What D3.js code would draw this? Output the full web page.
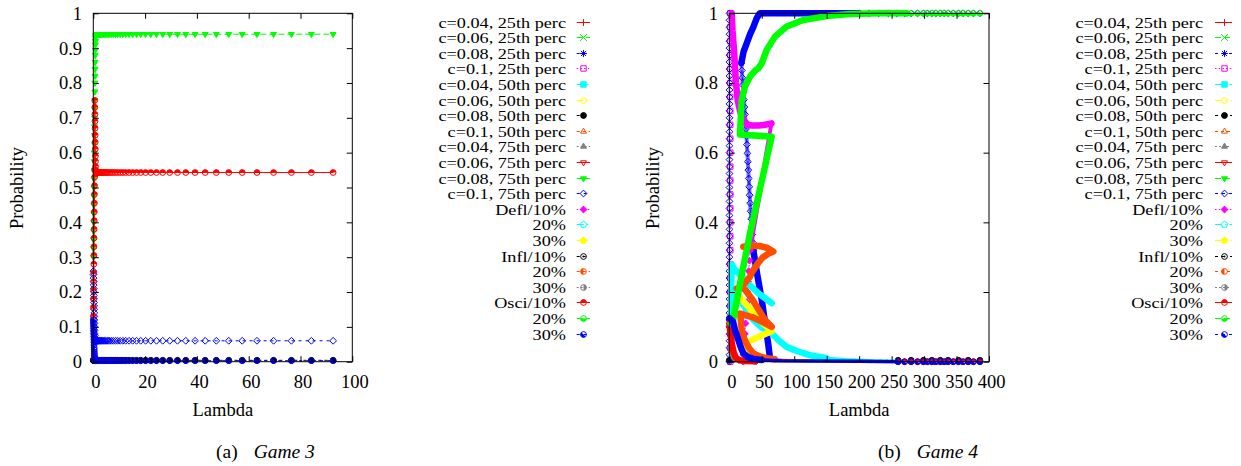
<!DOCTYPE html>
<html><head><meta charset="utf-8">
<script src="https://cdn.jsdelivr.net/npm/d3@7/dist/d3.min.js"></script>
<style>body{margin:0;background:#fff}svg{display:block}</style>
</head><body><svg id="c" width="1241" height="466"></svg>
<script>
// ---------------- data ----------------
const LEGEND_LABELS = ["c=0.04, 25th perc","c=0.06, 25th perc","c=0.08, 25th perc","c=0.1, 25th perc",
  "c=0.04, 50th perc","c=0.06, 50th perc","c=0.08, 50th perc","c=0.1, 50th perc",
  "c=0.04, 75th perc","c=0.06, 75th perc","c=0.08, 75th perc","c=0.1, 75th perc",
  "Defl/10%","20%","30%","Infl/10%","20%","30%","Osci/10%","20%","30%"];
const LINE_COLORS = ["#ff0000","#00ff00","#0000ff","#ff00ff","#00ffff","#ffff00","#000000","#ff4d00","#808080"];
const LINE_DASHES = [null,"6,3","3,4","1.5,2.2","7,3,1.5,3","6,4,1.5,4","3,3,3,6","3,3,3,3,3,6","2,2,2,2,2,2,2,5"];

const G3_X_TICKS = [0,20,40,60,80,100];
const G3_Y_TICKS = [0,0.1,0.2,0.3,0.4,0.5,0.6,0.7,0.8,0.9,1];
const G4_X_TICKS = [0,50,100,150,200,250,300,350,400];
const G4_Y_TICKS = [0,0.2,0.4,0.6,0.8,1];

// Game 3: lambda grid and series values on it
const G3_LAMBDA = [0.03,0.06,0.09,0.12,0.15,0.18,0.21,0.24,0.27,0.3,0.33,0.36,0.39,0.42,0.45,0.48,0.51,0.54,0.57,0.6,
  0.63,0.66,0.69,0.72,0.75,0.78,0.81,0.84,0.87,0.9,
  1.0,1.1,1.3,1.4,1.5,1.7,1.8,2.0,2.2,2.5,2.7,3.0,3.3,3.6,4.0,4.4,4.8,5.3,5.8,6.4,
  7.1,7.8,8.6,9.4,10.4,11.4,12.5,13.8,15.2,16.7,18.3,20.2,22.2,24.4,26.8,29.5,32.5,35.7,39.3,43.2,
  47.5,52.3,57.5,63.2,69.6,76.5,84.2,92.6];
const G3_C008_50 = [0.004,0.004,0.004,0.004,0.004,0.004,0.004,0.004,0.004,0.004,
  0.004,0.004,0.004,0.004,0.004,0.004,0.004,0.004,0.004,0.004,
  0.004,0.004,0.004,0.004,0.004,0.004,0.004,0.004,0.004,0.004,
  0.004,0.004,0.004,0.004,0.004,0.004,0.004,0.004,0.004,0.004,
  0.004,0.004,0.004,0.004,0.004,0.004,0.004,0.004,0.004,0.004,
  0.004,0.004,0.004,0.004,0.004,0.004,0.004,0.004,0.004,0.004,
  0.004,0.004,0.004,0.004,0.004,0.004,0.004,0.004,0.004,0.004,
  0.004,0.004,0.004,0.004,0.004,0.004,0.004,0.004];
const G3_C008_75 = [0.30,0.325,0.35,0.375,0.40,0.425,0.45,0.475,0.50,0.525,
  0.55,0.575,0.60,0.625,0.65,0.675,0.70,0.725,0.75,0.775,
  0.80,0.82,0.84,0.86,0.88,0.895,0.91,0.92,0.93,0.935,
  0.938,0.939,0.94,0.94,0.94,0.94,0.94,0.94,0.94,0.94,
  0.94,0.94,0.94,0.94,0.94,0.94,0.94,0.94,0.94,0.94,
  0.94,0.94,0.94,0.94,0.94,0.94,0.94,0.94,0.94,0.94,
  0.94,0.94,0.94,0.94,0.94,0.94,0.94,0.94,0.94,0.94,
  0.94,0.94,0.94,0.94,0.94,0.94,0.94,0.94];
const G3_C01_75 = [0.26,0.25,0.24,0.23,0.22,0.21,0.20,0.19,0.18,0.17,
  0.16,0.15,0.14,0.13,0.12,0.11,0.10,0.09,0.08,0.075,
  0.07,0.066,0.063,0.062,0.061,0.06,0.06,0.06,0.06,0.06,
  0.06,0.06,0.06,0.06,0.06,0.06,0.06,0.06,0.06,0.06,
  0.06,0.06,0.06,0.06,0.06,0.06,0.06,0.06,0.06,0.06,
  0.06,0.06,0.06,0.06,0.06,0.06,0.06,0.06,0.06,0.06,
  0.06,0.06,0.06,0.06,0.06,0.06,0.06,0.06,0.06,0.06,
  0.06,0.06,0.06,0.06,0.06,0.06,0.06,0.06];
const G3_OSCI10 = [0.13,0.155,0.18,0.205,0.23,0.255,0.28,0.305,0.33,0.355,
  0.38,0.405,0.43,0.455,0.48,0.505,0.53,0.55,0.75,0.73,
  0.71,0.69,0.67,0.65,0.63,0.61,0.59,0.575,0.56,0.55,
  0.546,0.544,0.543,0.543,0.543,0.543,0.543,0.543,0.543,0.543,
  0.543,0.543,0.543,0.543,0.543,0.543,0.543,0.543,0.543,0.543,
  0.543,0.543,0.543,0.543,0.543,0.543,0.543,0.543,0.543,0.543,
  0.543,0.543,0.543,0.543,0.543,0.543,0.543,0.543,0.543,0.543,
  0.543,0.543,0.543,0.543,0.543,0.543,0.543,0.543];
const G3_OSCI30 = [0.12,0.112,0.104,0.096,0.088,0.08,0.072,0.064,0.056,0.048,
  0.04,0.034,0.028,0.022,0.017,0.013,0.01,0.008,0.006,0.005,
  0.004,0.003,0.003,0.003,0.003,0.003,0.003,0.003,0.003,0.003,
  0.003,0.003,0.003,0.003,0.003,0.003,0.003,0.003,0.003,0.003,
  0.003,0.003,0.003,0.003,0.003,0.003,0.003,0.003,0.003,0.003,
  0.003,0.003,0.003,0.003,0.003,0.003,0.003,0.003,0.003,0.003,
  0.003,0.003,0.003,0.003,0.003,0.003,0.003,0.003,0.003,0.003,
  0.003,0.003,0.003,0.003,0.003,0.003,0.003,0.003];

// Game 4: [lambda, probability] points per series piece
const G4_C01_25 = [[1.5,1],[1.5,0.96],[1.5,0.92],[1.5,0.88],[1.5,0.84],[1.5,0.8],[1.5,0.76],[1.5,0.72],[1.5,0.68],[1.5,0.64],
  [1.5,0.6],[1.5,0.56],[1.5,0.52],[1.5,0.48],[1.5,0.44],[1.5,0.4],[1.5,0.36],[1.5,0.32],[1.5,0.28],[1.5,0.24],
  [1.5,0.2],[1.5,0.16],[1.5,0.12],[1.5,0.08],[1.5,0.04],[1.5,0]];
const G4_C008_50 = [[0,0.004],[260,0.004],[280,0.004],[299,0.004],[312,0.004],[325,0.004],[337,0.004],[353,0.004],
  [368,0.004],[386,0.004]];
const G4_C01_75_COL = [[0.3,1],[0.3,0.98],[0.3,0.96],[0.3,0.94],[0.3,0.92],[0.3,0.9],[0.3,0.88],[0.3,0.86],[0.3,0.84],[0.3,0.82],
  [0.3,0.8],[0.3,0.78],[0.3,0.76],[0.3,0.74],[0.3,0.72],[0.3,0.7],[0.3,0.68],[0.3,0.66],[0.3,0.64],[0.3,0.62],
  [0.3,0.6],[0.3,0.58],[0.3,0.56],[0.3,0.54],[0.3,0.52],[0.3,0.5],[0.3,0.48],[0.3,0.46],[0.3,0.44],[0.3,0.42],
  [0.3,0.4],[0.3,0.38],[0.3,0.36],[0.3,0.34],[0.3,0.32],[0.3,0.3],[0.3,0.28],[0.3,0.26],[0.3,0.24],[0.3,0.22],
  [0.3,0.2],[0.3,0.18],[0.3,0.16],[0.3,0.14],[0.3,0.12],[0.3,0.1],[0.3,0.08],[0.3,0.06],[0.3,0.04],[0.3,0.02],[0.3,0]];
const G4_C01_75_CHAIN = [[18.5,0.857],[19.3,0.836],[20.1,0.815],[20.9,0.794],[21.7,0.773],[22.5,0.752],[23.3,0.731],[24.1,0.71],
  [24.9,0.689],[25.7,0.668],[26.5,0.647],[27.2,0.623],[27.9,0.598],[28.6,0.574],[29.3,0.55],[30,0.526],[30.7,0.502],
  [31.4,0.478],[32.1,0.455],[32.9,0.432],[33.7,0.41],[34.5,0.387],[35.3,0.365],[36.1,0.342],[37,0.32]];
const G4_C01_75_DOWN = [[37,0.32],[43,0.25],[50,0.177],[56,0.1],[60,0.05],[62.7,0.01]];
const G4_C01_75_UP = [[18.5,0.857],[22,0.89],[26.8,0.914],[32,0.94],[37,0.96],[42,0.985],[47,1],[100,1],[150,1],[200,1]];
const G4_C01_75_TAIL = [[200,1],[215,1],[230,1],[245,1],[258,1],[270,1],[280,1],[290,1],[299,1],[305,1],[312,1],[318,1],
  [325,1],[331,1],[337,1],[345,1],[353,1],[360,1],[368,1],[376,1],[386,1]];
const G4_DEFL10_DENSE = [[3.7,1],[5,0.95],[7.2,0.895],[10.3,0.8],[13,0.75],[16.5,0.72],[21,0.695],[26.8,0.68],[35,0.678],[45,0.678],[55,0.68],[65,0.684]];
const G4_DEFL10_MED = [[65,0.684],[56,0.59],[48,0.49],[40,0.405],[32,0.32]];
const G4_DEFL10_SPARSE = [[32,0.32],[31,0.29],[30,0.26],[29,0.23],[28,0.2],[27,0.17],[26,0.14],[25,0.11],[24,0.08],[23,0.05],[22,0.02],[21.5,0]];
const G4_DEFL20_A = [[2.5,0.13],[3,0.2],[3.5,0.28],[8,0.265],[16.5,0.25],[30,0.222],[45,0.196],[65.3,0.168]];
const G4_DEFL20_B = [[11.4,0.196],[16.5,0.182],[25,0.152],[37,0.12],[50,0.098],[65.3,0.0815],[75,0.063],[88,0.043],[105,0.03],[124,0.019],[150,0.01]];
const G4_DEFL20_C = [[150,0.01],[180,0.006],[222,0.003],[260,0.002]];
const G4_DEFL30_A = [[14,0.19],[28,0.16],[42,0.13],[52,0.11],[62,0.095]];
const G4_DEFL30_B = [[34.5,0.062],[50,0.075],[65.3,0.088]];
const G4_DEFL30_C = [[10,0.07],[16.5,0.062],[22,0.045],[27,0.03],[35,0.015],[45,0.006]];
const G4_INFL20_A = [[21.6,0.33],[35,0.333],[47,0.332],[58,0.327],[67.8,0.316],[60,0.31],[52,0.3],[45,0.285],[39.6,0.27],[35,0.257],
  [31.9,0.244],[26,0.23],[19,0.215],[11.4,0.21],[18,0.215],[25,0.205],[35,0.18],[45,0.15],[55,0.12],[65.3,0.1],
  [55,0.11],[45,0.12],[35,0.128],[25,0.133],[17,0.138],[18,0.11],[20,0.08],[24,0.062],[30,0.04],[37,0.024],[47,0.015],[57.6,0.01],[70,0.007]];
const G4_INFL20_B = [[70,0.007],[90,0.005],[110,0.004],[130,0.003],[150,0.002]];
const G4_INFL30 = [[1,0.04],[3,0.025],[6,0.012],[10,0.006],[15,0.003]];
const G4_OSCI10_DENSE = [[0,0.11],[2,0.08],[4,0.05],[7,0.025],[10,0.012],[16,0.004],[25,0.002],[40,0.001]];
const G4_OSCI10_TAIL = [[40,0.001],[260,0],[270,0],[280,0],[290,0],[299,0],[305,0],[312,0],[318,0],[325,0],[331,0],
  [337,0],[345,0],[353,0],[360,0],[368,0],[376,0],[386,0]];
const G4_OSCI20_DENSE = [[2,0.11],[6,0.12],[16.5,0.225],[31.9,0.368],[65.3,0.646],[16.5,0.652],[19,0.751],[24,0.79],[31.9,0.818],
  [40,0.836],[44.7,0.842],[49.9,0.856],[57.6,0.895],[70.4,0.933],[88.4,0.962],[114,0.981],[150,0.992],[186,0.998],[230,1],[273,1]];
const G4_OSCI20_TAIL = [[273,1],[280,1],[290,1],[299,1],[305,1],[312,1],[318,1],[325,1],[331,1],[337,1],[345,1],[353,1],
  [360,1],[368,1],[376,1],[386,1]];
const G4_OSCI30_DENSE = [[0,0.125],[3,0.12],[5.7,0.115],[9,0.09],[14,0.062],[18,0.04],[21.6,0.024],[28,0.014],[37,0.008],[50,0.005]];
const G4_OSCI30_MED = [[50,0.005],[80,0.003],[120,0.002],[200,0.001],[260,0]];
const G4_OSCI30_TAIL = [[260,0],[270,0],[280,0],[290,0],[299,0],[305,0],[312,0],[318,0],[325,0],[331,0],[337,0],[345,0],
  [353,0],[360,0],[368,0],[376,0],[386,0]];

// ---------------- drawing ----------------
const FONT = "'Liberation Serif','Times New Roman',serif";
const FS = 18.5;      // axis / title font size
const LEG_FS = 14;    // legend font size (rows are 15.6 px apart)
const svg = d3.select("#c");
const Y0 = 361.7, Y1 = 13.3;

function zip(xs, ys) { return xs.map((x, k) => [x, ys[k]]); }

const G3_SERIES = [
  {i: 6, segs: [{pts: zip(G3_LAMBDA, G3_C008_50), w: 0}]},
  {i: 10, segs: [{pts: zip(G3_LAMBDA, G3_C008_75), w: 0}]},
  {i: 11, segs: [{pts: zip(G3_LAMBDA, G3_C01_75), w: 0}]},
  {i: 18, segs: [{pts: zip(G3_LAMBDA, G3_OSCI10), w: 0}]},
  {i: 20, segs: [{pts: zip(G3_LAMBDA, G3_OSCI30), w: 0}]}
];
const G4_SERIES = [
  {i: 3, segs: [{pts: G4_C01_25, w: 0}]},
  {i: 6, segs: [{pts: G4_C008_50, w: 0}]},
  {i: 11, segs: [{pts: G4_C01_75_COL, w: 0}, {pts: G4_C01_75_CHAIN, w: 0, under: 4}, {pts: G4_C01_75_DOWN, w: 6.5},
                 {pts: G4_C01_75_UP, w: 6.5}, {pts: G4_C01_75_TAIL, w: 0}]},
  {i: 12, segs: [{pts: G4_DEFL10_DENSE, w: 6.5}, {pts: G4_DEFL10_MED, w: 3.8}, {pts: G4_DEFL10_SPARSE, w: 0}]},
  {i: 13, segs: [{pts: G4_DEFL20_A, w: 6.5}, {pts: G4_DEFL20_B, w: 6.5}, {pts: G4_DEFL20_C, w: 3}]},
  {i: 14, segs: [{pts: G4_DEFL30_A, w: 6.5}, {pts: G4_DEFL30_B, w: 6.5}, {pts: G4_DEFL30_C, w: 6.5}]},
  {i: 16, segs: [{pts: G4_INFL20_A, w: 6.5}, {pts: G4_INFL20_B, w: 2}]},
  {i: 17, segs: [{pts: G4_INFL30, w: 5}]},
  {i: 18, segs: [{pts: G4_OSCI10_DENSE, w: 6.5}, {pts: G4_OSCI10_TAIL, w: 0}]},
  {i: 19, segs: [{pts: G4_OSCI20_DENSE, w: 6.5}, {pts: G4_OSCI20_TAIL, w: 0}]},
  {i: 20, segs: [{pts: G4_OSCI30_DENSE, w: 6.5}, {pts: G4_OSCI30_MED, w: 3.5}, {pts: G4_OSCI30_TAIL, w: 0}]}
];

function circ(s) { return `M${s},0A${s},${s} 0 1,1 ${-s},0A${s},${s} 0 1,1 ${s},0Z`; }
function poly(n, s, rot) {
  const p = d3.range(n).map(k => { const a = (rot + k * 360 / n) * Math.PI / 180; return [s * Math.cos(a), s * Math.sin(a)]; });
  return "M" + p.map(q => q[0].toFixed(2) + "," + q[1].toFixed(2)).join("L") + "Z";
}
function marker(g, t, x, y, col, s) {
  const m = g.append("g").attr("transform", `translate(${x},${y})`);
  const add = (d, filled) => m.append("path").attr("d", d).attr("fill", filled ? col : "none")
    .attr("stroke", col).attr("stroke-width", 1);
  switch (t) {
    case 1: add(`M${-s},0H${s}M0,${-s}V${s}`); break;
    case 2: add(`M${-s},${-s}L${s},${s}M${-s},${s}L${s},${-s}`); break;
    case 3: add(`M${-s},0H${s}M0,${-s}V${s}M${-s*0.75},${-s*0.75}L${s*0.75},${s*0.75}M${-s*0.75},${s*0.75}L${s*0.75},${-s*0.75}`); break;
    case 4: add(`M${-s*0.8},${-s*0.8}h${s*1.6}v${s*1.6}h${-s*1.6}Z`); break;
    case 5: add(`M${-s*0.8},${-s*0.8}h${s*1.6}v${s*1.6}h${-s*1.6}Z`, true); break;
    case 6: add(circ(s * 0.85)); break;
    case 7: add(circ(s * 0.85), true); break;
    case 8: add(poly(3, s, -90)); break;
    case 9: add(poly(3, s, -90), true); break;
    case 10: add(poly(3, s, 90)); break;
    case 11: add(poly(3, s, 90), true); break;
    case 12: add(poly(4, s, 0)); break;
    case 13: add(poly(4, s, 0), true); break;
    case 14: add(poly(5, s, -90)); break;
    case 15: add(poly(5, s, -90), true); break;
    default: {
      const r = s * 0.85;
      add(circ(r));
      const halves = {17: 90, 18: 270, 19: 180, 20: 0, 21: 45};
      if (t === 16) { m.append("circle").attr("r", 1).attr("fill", col); }
      else {
        const a = halves[t] * Math.PI / 180;
        const x1 = r * Math.cos(a), y1 = r * Math.sin(a);
        m.append("path").attr("d", `M0,0L${x1},${y1}A${r},${r} 0 0,1 ${-x1},${-y1}Z`).attr("fill", col);
      }
    }
  }
}

function panel(p) {
  const g = svg.append("g");
  const xs = d3.scaleLinear().domain(p.xDomain).range([p.x0, p.x1]);
  const ys = d3.scaleLinear().domain([0, 1]).range([Y0, Y1]);
  const line = d3.line().x(d => xs(d[0])).y(d => ys(d[1]));
  const data = g.append("g");
  p.series.slice().sort((a, b) => a.i - b.i).forEach(s => {
    const col = LINE_COLORS[s.i % 9];
    const dash = LINE_DASHES[s.i % 9];
    s.segs.forEach(seg => {
      if (seg.w > 0) {
        data.append("path").attr("d", line(seg.pts)).attr("fill", "none").attr("stroke", col)
          .attr("stroke-width", seg.w).attr("stroke-linejoin", "round").attr("stroke-linecap", "round");
      } else {
        if (seg.under) {
          data.append("path").attr("d", line(seg.pts)).attr("fill", "none").attr("stroke", col)
            .attr("stroke-opacity", 0.55).attr("stroke-width", seg.under).attr("stroke-linecap", "round");
        }
        data.append("path").attr("d", line(seg.pts)).attr("fill", "none").attr("stroke", col)
          .attr("stroke-width", 1).attr("stroke-dasharray", dash);
        seg.pts.forEach(q => marker(data, s.i + 1, xs(q[0]), ys(q[1]), col, 3.4));
      }
    });
  });
  // axes (gnuplot style: inward, mirrored ticks)
  const styleAxis = a => { a.select(".domain").remove(); a.attr("font-family", FONT).attr("font-size", FS); a.selectAll("text").attr("fill", "#000"); };
  const ax = g.append("g").attr("transform", `translate(0,${Y0})`)
    .call(d3.axisBottom(xs).tickValues(p.xTicks).tickSize(-5.5).tickPadding(12.7).tickFormat(d => String(d)));
  styleAxis(ax); ax.selectAll("text").attr("dx", 2);
  const axT = g.append("g").attr("transform", `translate(0,${Y1})`)
    .call(d3.axisTop(xs).tickValues(p.xTicks).tickSize(-5.5).tickFormat(""));
  styleAxis(axT);
  const ay = g.append("g").attr("transform", `translate(${p.x0},0)`)
    .call(d3.axisLeft(ys).tickValues(p.yTicks).tickSize(-5.5).tickPadding(11.3).tickFormat(d => String(d)));
  styleAxis(ay);
  const ayR = g.append("g").attr("transform", `translate(${p.x1},0)`)
    .call(d3.axisRight(ys).tickValues(p.yTicks).tickSize(-5.5).tickFormat(""));
  styleAxis(ayR);
  g.append("rect").attr("x", p.x0).attr("y", Y1).attr("width", p.x1 - p.x0).attr("height", Y0 - Y1)
    .attr("fill", "none").attr("stroke", "#000").attr("stroke-width", 1);
  // axis titles
  g.append("text").attr("transform", `translate(${p.yTitleX},188) rotate(-90)`).attr("text-anchor", "middle")
    .attr("font-family", FONT).attr("font-size", FS).text("Probability");
  g.append("text").attr("x", (p.x0 + p.x1) / 2).attr("y", 416).attr("text-anchor", "middle")
    .attr("font-family", FONT).attr("font-size", FS).text("Lambda");
  // legend
  LEGEND_LABELS.forEach((lab, i) => {
    const y = Math.round(21.5 + i * 15.6) + 0.5;
    const col = LINE_COLORS[i % 9];
    const t = g.append("text").attr("x", p.legText).attr("y", y + 5).attr("text-anchor", "end")
      .attr("font-family", FONT).attr("font-size", LEG_FS).text(lab);
    const w = t.node().getComputedTextLength();
    t.attr("textLength", w * 1.3).attr("lengthAdjust", "spacingAndGlyphs");
    g.append("line").attr("x1", p.legL0).attr("x2", p.legL1).attr("y1", y).attr("y2", y)
      .attr("stroke", col).attr("stroke-width", 1).attr("stroke-dasharray", LINE_DASHES[i % 9]);
    marker(g, i + 1, Math.round((p.legL0 + p.legL1) / 2) + 0.5, y, col, 3.4);
  });
  // caption
  const cap = g.append("text").attr("x", p.capX).attr("y", 458).attr("font-family", FONT).attr("font-size", 19.5);
  cap.append("tspan").text(p.capA);
  cap.append("tspan").attr("dx", 16).attr("font-style", "italic").text(p.capB);
}

panel({xDomain: [0, 100], x0: 93.3, x1: 352.3, xTicks: G3_X_TICKS, yTicks: G3_Y_TICKS, series: G3_SERIES,
  yTitleX: 23, legText: 566, legL0: 576.7, legL1: 590, capX: 216, capA: "(a)", capB: "Game 3"});
panel({xDomain: [0, 400], x0: 729.3, x1: 989, xTicks: G4_X_TICKS, yTicks: G4_Y_TICKS, series: G4_SERIES,
  yTitleX: 659, legText: 1203, legL0: 1215, legL1: 1232, capX: 878, capA: "(b)", capB: "Game 4"});
</script>
</body></html>
